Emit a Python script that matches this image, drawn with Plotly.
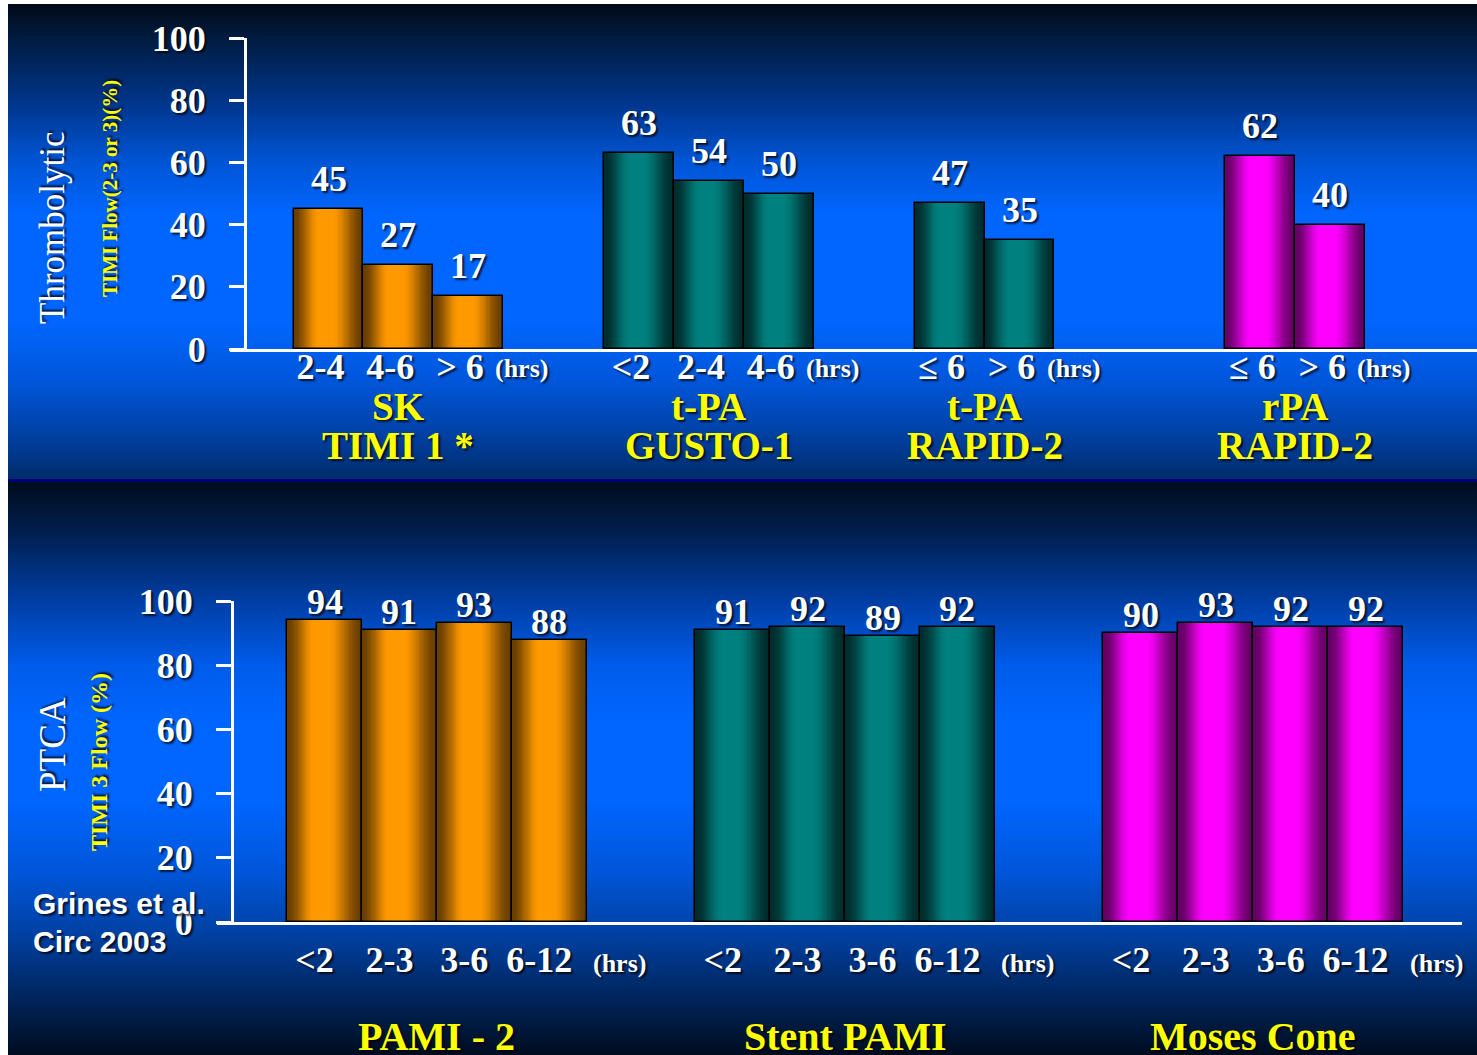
import base64
import struct
import zlib

import plotly.graph_objects as go

# ---------------------------------------------------------------- data
top_drugs = ["SK", "t-PA", "t-PA", "rPA"]
top_trials = ["TIMI 1 *", "GUSTO-1", "RAPID-2", "RAPID-2"]
top_times = [
    ["2-4", "4-6", "&gt; 6"],
    ["&lt;2", "2-4", "4-6"],
    ["≤ 6", "&gt; 6"],
    ["≤ 6", "&gt; 6"],
]
top_values = [
    [45, 27, 17],
    [63, 54, 50],
    [47, 35],
    [62, 40],
]
top_palette = ["orange", "teal", "teal", "magenta"]

bottom_trials = ["PAMI - 2", "Stent PAMI", "Moses Cone"]
bottom_times = ["&lt;2", "2-3", "3-6", "6-12"]
bottom_values = [
    [94, 91, 93, 88],
    [91, 92, 89, 92],
    [90, 93, 92, 92],
]
bottom_palette = ["orange", "teal", "magenta"]

y_ticks = [0, 20, 40, 60, 80, 100]

# ---------------------------------------------------------------- styling
W, H = 1477, 1055
SERIF = "Liberation Serif, Times New Roman, serif"
SANS = "Liberation Sans, Arial, sans-serif"
SHADOW = "2px 2px 2px rgba(0,0,0,0.75)"
YELLOW = "#ffff00"

# (edge colour, centre colour) for the cylinder-shaded bars
BAR_SHADES = {
    "orange": ((105, 62, 0), (255, 153, 0)),
    "teal": ((0, 44, 44), (0, 128, 126)),
    "magenta": ((100, 0, 100), (255, 0, 255)),
}
N_LAYERS = 32
HIGHLIGHT = 0.45  # where the brightest strip sits across a bar (0 = left edge)

TOP_STEP = 4.45   # distance between group starts, in bar widths
BOT_STEP = 5.45


def px_x(p):
    return p / W


def px_y(p):
    return 1 - p / H


def lerp(a, b, t):
    return tuple(int(round(a[i] + (b[i] - a[i]) * t)) for i in range(3))


# ---------------------------------------------------------------- background
# vertical colour stops (pixel row, rgb) for the two slide panels
BG_STOPS = [
    (4, (2, 10, 24)), (40, (0, 28, 66)), (100, (0, 52, 136)),
    (160, (0, 84, 212)), (215, (0, 102, 255)), (320, (0, 102, 255)),
    (380, (0, 86, 218)), (430, (0, 66, 168)), (478, (0, 44, 108)),
    (479, (0, 0, 125)), (481, (0, 0, 125)), (482, (0, 12, 30)),
    (530, (0, 30, 76)), (600, (0, 62, 164)), (665, (0, 92, 234)),
    (720, (0, 102, 255)), (800, (0, 102, 255)), (870, (0, 86, 218)),
    (930, (0, 66, 166)), (990, (0, 40, 100)), (1055, (0, 12, 30)),
]


def bg_color(row):
    for (y0, c0), (y1, c1) in zip(BG_STOPS[:-1], BG_STOPS[1:]):
        if y0 <= row <= y1:
            return lerp(c0, c1, 0 if y1 == y0 else (row - y0) / (y1 - y0))
    return BG_STOPS[-1][1]


def gradient_png(rows):
    def chunk(tag, data):
        return (struct.pack(">I", len(data)) + tag + data
                + struct.pack(">I", zlib.crc32(tag + data) & 0xFFFFFFFF))
    raw = b"".join(b"\x00" + bytes(c) * 2 for c in rows)
    png = (b"\x89PNG\r\n\x1a\n"
           + chunk(b"IHDR", struct.pack(">IIBBBBB", 2, len(rows), 8, 2, 0, 0, 0))
           + chunk(b"IDAT", zlib.compress(raw, 9))
           + chunk(b"IEND", b""))
    return "data:image/png;base64," + base64.b64encode(png).decode()


bg_rows = [bg_color(r) for r in range(4, H)]
bg_uri = gradient_png(bg_rows)

# ---------------------------------------------------------------- bar positions
top_x, top_y, top_col = [], [], []
for g, vals in enumerate(top_values):
    for i, v in enumerate(vals):
        top_x.append(g * TOP_STEP + i)
        top_y.append(v)
        top_col.append(top_palette[g])

bot_x, bot_y, bot_col = [], [], []
for g, vals in enumerate(bottom_values):
    for i, v in enumerate(vals):
        bot_x.append(g * BOT_STEP + i)
        bot_y.append(v)
        bot_col.append(bottom_palette[g])

top_ticktext = [t for grp in top_times for t in grp]
bot_ticktext = [t for _ in bottom_values for t in bottom_times]

fig = go.Figure()


def add_shaded_bars(xs, ys, cols, xa, ya):
    for k in range(N_LAYERS):
        w = 1 - k / N_LAYERS
        s = min(1.0, (1 - w) / 0.8)
        t = s * s * (3 - 2 * s)
        colors = ["rgb(%d,%d,%d)" % lerp(BAR_SHADES[c][0], BAR_SHADES[c][1], t)
                  for c in cols]
        fig.add_trace(go.Bar(
            x=xs, y=ys, width=w, offset=-0.5 + (1 - w) * HIGHLIGHT,
            marker=dict(color=colors, line=dict(width=0)),
            xaxis=xa, yaxis=ya, hoverinfo="skip", showlegend=False,
        ))
    # outline on top of the shading
    fig.add_trace(go.Bar(
        x=xs, y=ys, width=1,
        marker=dict(color="rgba(0,0,0,0)", line=dict(color="black", width=1.5)),
        xaxis=xa, yaxis=ya, hoverinfo="skip", showlegend=False,
    ))


add_shaded_bars(top_x, top_y, top_col, "x", "y")
add_shaded_bars(bot_x, bot_y, bot_col, "x2", "y2")

# ---------------------------------------------------------------- axes
top_unit, top_first = 69.8, 328.5
top_l, top_r = 230, W
bot_unit, bot_first = 74.9, 324.5
bot_l, bot_r = 217, 1462

axis_common = dict(showgrid=False, zeroline=False, fixedrange=True)
xtick_font = dict(family=SERIF, size=36, color="white", weight="bold",
                  shadow=SHADOW)
ytick_font = dict(family=SERIF, size=36, color="white", weight="bold",
                  shadow=SHADOW)

fig.update_layout(
    xaxis=dict(
        domain=[px_x(top_l), px_x(top_r)],
        range=[-(top_first - top_l) / top_unit, (top_r - top_first) / top_unit],
        anchor="y", showline=True, linecolor="white", linewidth=3,
        tickmode="array", tickvals=top_x, ticktext=top_ticktext, ticks="",
        tickfont=xtick_font, ticklabelstandoff=-16, ticklabelshift=-8,
        **axis_common,
    ),
    yaxis=dict(
        domain=[px_y(349), px_y(38)], range=[0, 100],
        anchor="free", position=px_x(245),
        showline=True, linecolor="white", linewidth=3,
        tickmode="array", tickvals=y_ticks, ticks="outside", ticklen=15,
        tickwidth=3, tickcolor="white", ticklabelstandoff=16,
        tickfont=ytick_font,
        **axis_common,
    ),
    xaxis2=dict(
        domain=[px_x(bot_l), px_x(bot_r)],
        range=[-(bot_first - bot_l) / bot_unit, (bot_r - bot_first) / bot_unit],
        anchor="y2", showline=True, linecolor="white", linewidth=3,
        tickmode="array", tickvals=bot_x, ticktext=bot_ticktext, ticks="",
        tickfont=xtick_font, ticklabelstandoff=4, ticklabelshift=-10,
        **axis_common,
    ),
    yaxis2=dict(
        domain=[px_y(922), px_y(601)], range=[0, 100],
        anchor="free", position=px_x(232),
        showline=True, linecolor="white", linewidth=3,
        tickmode="array", tickvals=y_ticks, ticks="outside", ticklen=15,
        tickwidth=3, tickcolor="white", ticklabelstandoff=16,
        tickfont=ytick_font,
        **axis_common,
    ),
)

# ---------------------------------------------------------------- text
ann = []


def text(x, y, s, size, color="white", weight="normal", family=SERIF,
         xref="paper", angle=0, xanchor="center", yanchor="middle", xshift=0,
         yshift=0, yref="paper"):
    ann.append(dict(
        x=x, y=y, xref=xref, yref=yref, text=s, showarrow=False,
        textangle=angle, xanchor=xanchor, yanchor=yanchor,
        xshift=xshift, yshift=yshift,
        font=dict(family=family, size=size, color=color, weight=weight,
                  shadow=SHADOW),
    ))


# value labels above each bar
for x, v in zip(top_x, top_y):
    text(x, v, str(v), 36, weight="bold", xref="x", yref="y",
         yanchor="bottom", yshift=8)
for x, v in zip(bot_x, bot_y):
    text(x, v, str(v), 36, weight="bold", xref="x2", yref="y2",
         yanchor="bottom", yshift=-4)

# group names and "(hrs)" units, top panel
for g, vals in enumerate(top_values):
    first = g * TOP_STEP
    last = first + len(vals) - 1
    mid = (first + last) / 2
    text(mid, px_y(406), top_drugs[g], 39, color=YELLOW, weight="bold", xref="x")
    text(mid, px_y(446), top_trials[g], 39, color=YELLOW, weight="bold", xref="x")
    text(last, px_y(369), "(hrs)", 26, weight="bold", xref="x",
         xanchor="left", xshift=25)

# group names and "(hrs)" units, bottom panel (names sit at the slide's lower edge)
for g, vals in enumerate(bottom_values):
    first = g * BOT_STEP
    last = first + len(vals) - 1
    mid = (first + last) / 2
    text(mid, 0, bottom_trials[g], 40, color=YELLOW, weight="bold",
         xref="x2", yref="y2", yshift=-(1036 - 922))
    text(last, px_y(963), "(hrs)", 26, weight="bold", xref="x2",
         xanchor="left", xshift=42)

# axis titles
text(px_x(52), px_y(228), "Thrombolytic", 35, angle=-90)
text(px_x(110), px_y(189), "TIMI Flow(2-3 or 3)(%)", 21, color=YELLOW,
     weight="bold", angle=-90)
text(px_x(52), px_y(745), "PTCA", 37, angle=-90)
text(px_x(99), px_y(762), "TIMI 3 Flow (%)", 24, color=YELLOW, weight="bold",
     angle=-90)

# citation
text(px_x(31), px_y(903), "Grines et al.", 30, weight="bold", family=SANS,
     xanchor="left")
text(px_x(31), px_y(941), "Circ 2003", 30, weight="bold", family=SANS,
     xanchor="left")

fig.update_layout(
    width=W, height=H,
    margin=dict(l=0, r=0, t=0, b=0, autoexpand=False),
    paper_bgcolor="white", plot_bgcolor="rgba(0,0,0,0)",
    barmode="overlay", bargap=0,
    showlegend=False,
    annotations=ann,
    images=[dict(
        source=bg_uri, xref="paper", yref="paper",
        x=px_x(8), y=px_y(4), sizex=1 - px_x(8), sizey=px_y(4),
        xanchor="left", yanchor="top", sizing="stretch", layer="below",
    )],
)

fig.write_html("out.html", config={"displayModeBar": False})
